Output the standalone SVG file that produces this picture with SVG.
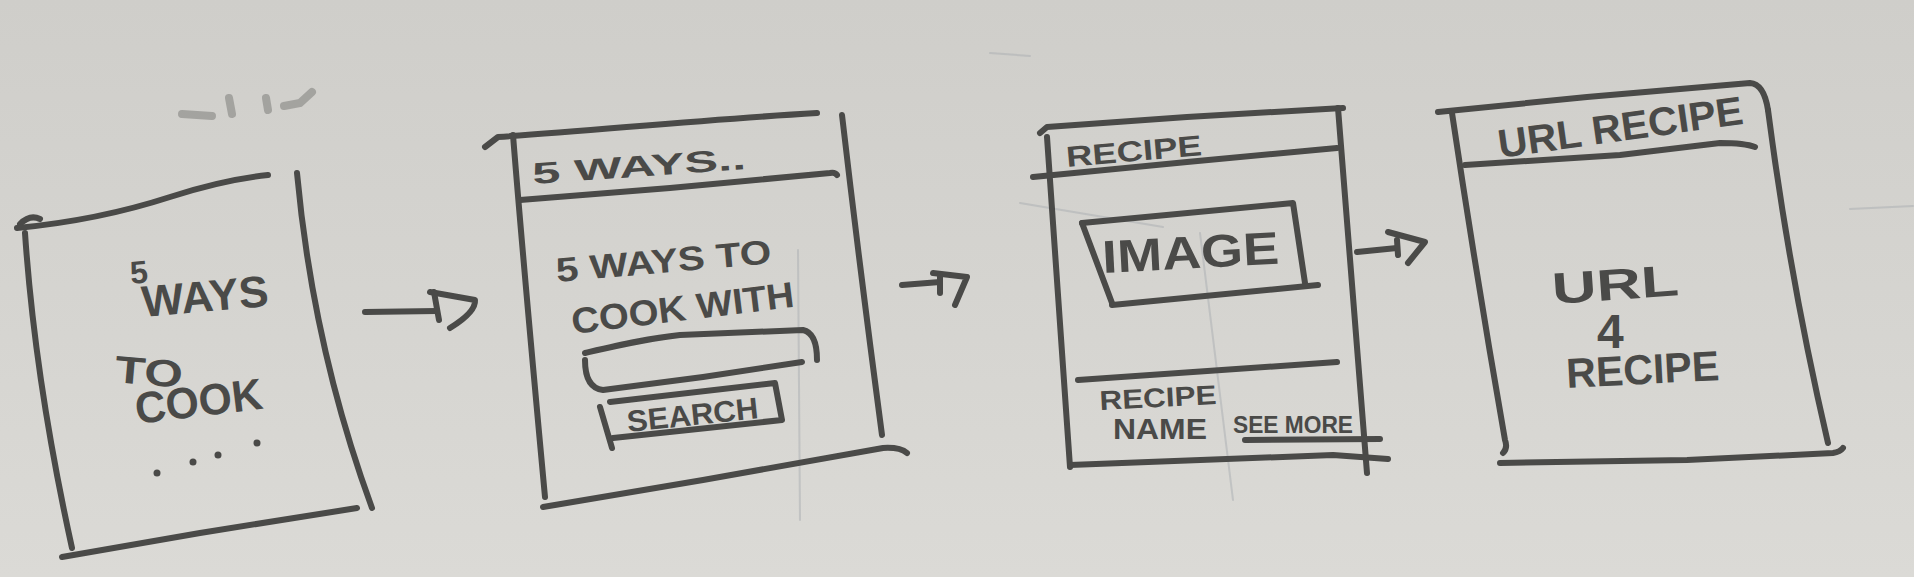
<svg xmlns="http://www.w3.org/2000/svg" width="1914" height="577" viewBox="0 0 1914 577">
<defs>
<linearGradient id="bg" x1="0" y1="0" x2="0" y2="1">
<stop offset="0" stop-color="#cfceca"/>
<stop offset="1" stop-color="#dbdad6"/>
</linearGradient>
<style>
.m{fill:none;stroke:#4a4a48;stroke-width:6;stroke-linecap:round;stroke-linejoin:round}
.t{fill:#4a4a48;font-family:"Liberation Sans","DejaVu Sans",sans-serif;font-weight:bold}
.faint{fill:none;stroke:#a9adb2;stroke-width:2;stroke-linecap:round;opacity:0.5}
.smudge{fill:none;stroke:#5e5e5c;stroke-width:8;stroke-linecap:round;opacity:0.4}
</style>
</defs>
<rect width="1914" height="577" fill="url(#bg)"/>
<g id="background-marks">
<path class="faint" d="M798,250 L800,520"/>
<path class="faint" d="M1200,233 L1233,500"/>
<path class="faint" d="M1020,203 L1163,227"/>
<path class="faint" d="M1850,209 L1913,206"/>
<path class="faint" d="M990,53 L1030,56"/>
<path class="smudge" d="M182,114 L212,116"/>
<path class="smudge" d="M229,98 L232,114"/>
<path class="smudge" d="M266,98 L268,110"/>
<path class="smudge" d="M284,106 L300,103 L312,92"/>
</g>
<g id="screen-splash">
<path class="m" d="M20,224 Q30,214 40,219"/>
<path class="m" d="M17,228 C80,222 130,210 170,197 S240,178 268,175"/>
<path class="m" d="M25,233 Q35,380 72,548"/>
<path class="m" d="M62,557 L200,533 L357,508"/>
<path class="m" d="M297,173 C305,260 325,380 372,508"/>
<text class="t" x="131" y="284" font-size="32" transform="rotate(-5 131 284)">5</text>
<text class="t" x="143" y="317" font-size="44" textLength="127" lengthAdjust="spacingAndGlyphs" transform="rotate(-5 143 317)">WAYS</text>
<text class="t" x="114" y="382" font-size="38" textLength="68" lengthAdjust="spacingAndGlyphs" transform="rotate(5 114 382)">TO</text>
<text class="t" x="137" y="424" font-size="44" textLength="128" lengthAdjust="spacingAndGlyphs" transform="rotate(-7 137 424)">COOK</text>
<circle cx="157" cy="473" r="3.5" fill="#4a4a48"/>
<circle cx="193" cy="462" r="3.5" fill="#4a4a48"/>
<circle cx="218" cy="455" r="3.5" fill="#4a4a48"/>
<circle cx="257" cy="443" r="3.5" fill="#4a4a48"/>
</g>
<g id="screen-search">
<path class="m" d="M485,147 L498,137 C600,130 700,120 817,113"/>
<path class="m" d="M513,135 Q523,260 545,497"/>
<path class="m" d="M520,200 L670,188 L830,173 Q835,172 837,175"/>
<path class="m" d="M842,115 Q860,270 882,435"/>
<path class="m" d="M543,507 L703,480 L883,448 Q900,447 907,453"/>
<path class="m" d="M585,353 C620,345 650,338 680,335 L803,330 Q817,333 817,360"/>
<path class="m" d="M585,360 Q585,388 603,390 L703,377 L802,362"/>
<path class="m" d="M610,402 L775,383 L782,420 L613,438"/>
<path class="m" d="M600,407 L612,448"/>
<text class="t" x="533" y="184" font-size="30" textLength="214" lengthAdjust="spacingAndGlyphs" transform="rotate(-4 533 184)">5 WAYS..</text>
<text class="t" x="557" y="282" font-size="34" textLength="216" lengthAdjust="spacingAndGlyphs" transform="rotate(-5 557 282)">5 WAYS TO</text>
<text class="t" x="573" y="334" font-size="36" textLength="224" lengthAdjust="spacingAndGlyphs" transform="rotate(-7 573 334)">COOK WITH</text>
<text class="t" x="628" y="432" font-size="30" textLength="132" lengthAdjust="spacingAndGlyphs" transform="rotate(-6 628 432)">SEARCH</text>
</g>
<g id="screen-recipe">
<path class="m" d="M1040,133 L1047,127 L1187,117 L1343,108"/>
<path class="m" d="M1047,137 L1070,467"/>
<path class="m" d="M1338,108 L1367,473"/>
<path class="m" d="M1033,177 L1187,162 L1337,148"/>
<path class="m" d="M1082,223 L1293,203 L1305,283"/>
<path class="m" d="M1082,223 L1112,303"/>
<path class="m" d="M1112,305 L1318,285"/>
<path class="m" d="M1078,380 L1337,362"/>
<path class="m" d="M1245,440 L1380,439"/>
<path class="m" d="M1070,465 L1333,455 L1388,459"/>
<text class="t" x="1067" y="167" font-size="29" textLength="136" lengthAdjust="spacingAndGlyphs" transform="rotate(-5 1067 167)">RECIPE</text>
<text class="t" x="1103" y="273" font-size="46" textLength="177" lengthAdjust="spacingAndGlyphs" transform="rotate(-3 1103 273)">IMAGE</text>
<text class="t" x="1100" y="410" font-size="27" textLength="117" lengthAdjust="spacingAndGlyphs" transform="rotate(-3 1100 410)">RECIPE</text>
<text class="t" x="1113" y="439" font-size="29" textLength="94" lengthAdjust="spacingAndGlyphs">NAME</text>
<text class="t" x="1233" y="433" font-size="23" textLength="120" lengthAdjust="spacingAndGlyphs">SEE MORE</text>
</g>
<g id="screen-url-recipe">
<path class="m" d="M1438,112 L1587,97 L1750,83 Q1764,84 1768,110"/>
<path class="m" d="M1768,110 Q1790,280 1828,443"/>
<path class="m" d="M1452,113 Q1477,280 1505,440 Q1508,448 1503,453"/>
<path class="m" d="M1465,165 L1620,155 L1720,143 Q1745,143 1755,147"/>
<path class="m" d="M1500,463 L1687,460 L1833,453 Q1840,452 1843,448"/>
<text class="t" x="1500" y="158" font-size="40" textLength="247" lengthAdjust="spacingAndGlyphs" transform="rotate(-8 1500 158)">URL RECIPE</text>
<text class="t" x="1553" y="304" font-size="44" textLength="127" lengthAdjust="spacingAndGlyphs" transform="rotate(-4 1553 304)">URL</text>
<text class="t" x="1597" y="348" font-size="48">4</text>
<text class="t" x="1567" y="388" font-size="42" textLength="153" lengthAdjust="spacingAndGlyphs" transform="rotate(-3 1567 388)">RECIPE</text>
</g>
<g id="connectors">
<g id="arrow-splash-search">
<path class="m" d="M365,312 L437,311"/>
<path class="m" d="M430,292 L475,300 Q476,312 450,328"/>
<path class="m" d="M434,292 L439,320"/>
</g>
<g id="arrow-search-recipe">
<path class="m" d="M902,285 L940,282"/>
<path class="m" d="M933,273 L967,277 L955,305"/>
<path class="m" d="M940,275 L940,293"/>
</g>
<g id="arrow-recipe-url">
<path class="m" d="M1357,252 L1397,248"/>
<path class="m" d="M1388,232 L1425,242 L1408,263"/>
<path class="m" d="M1397,240 L1398,255"/>
</g>
</g>
</svg>
